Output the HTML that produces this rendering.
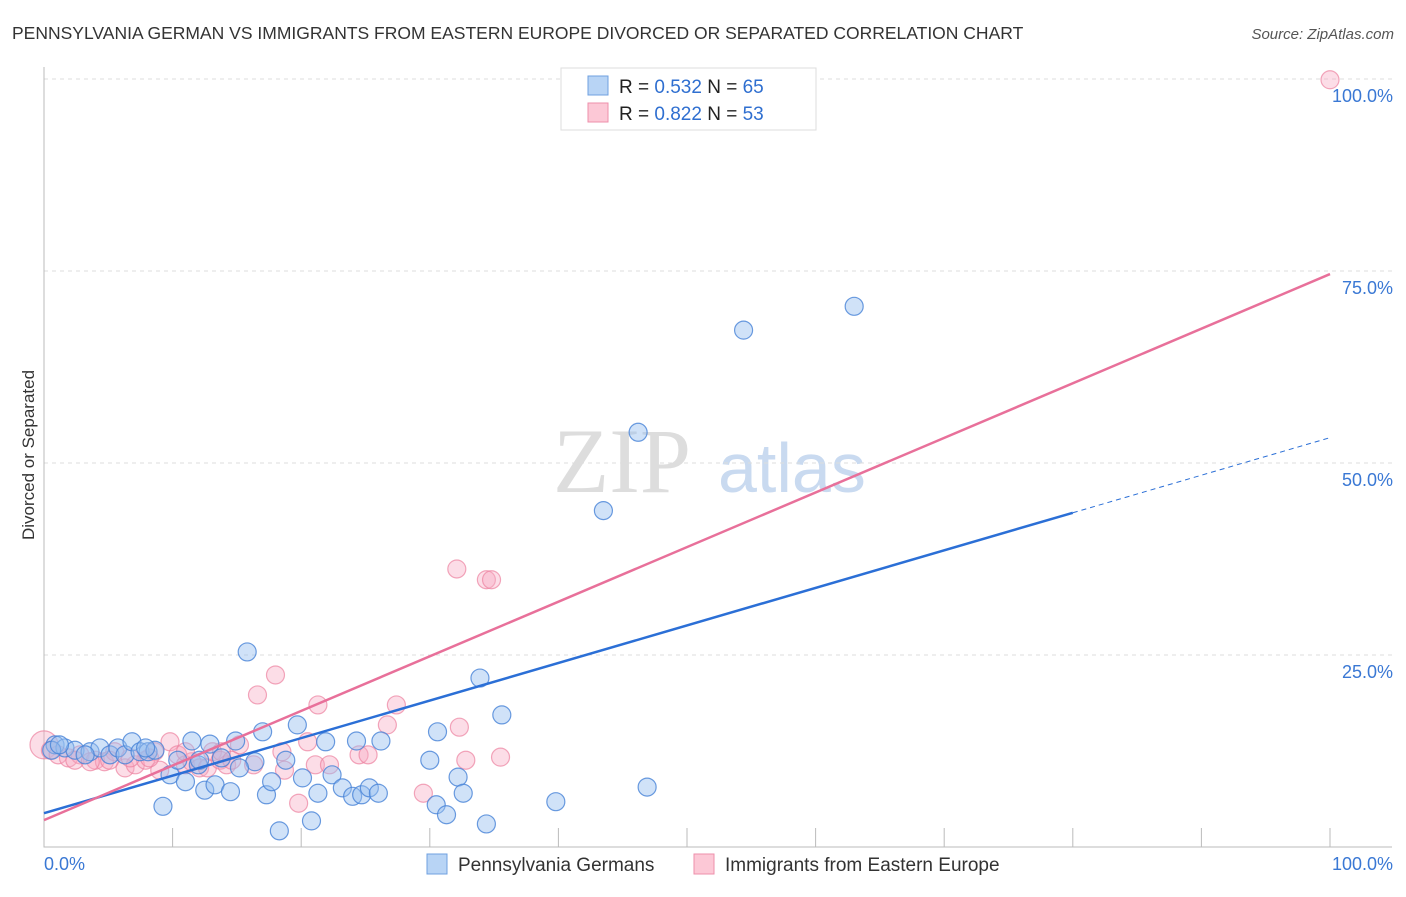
<!DOCTYPE html>
<html><head><meta charset="utf-8"><style>
body{margin:0;background:#fff;font-family:"Liberation Sans",sans-serif}
#c{position:relative;width:1406px;height:892px}
</style></head><body>
<div id="c">
<svg id="s" width="1406" height="892" xmlns="http://www.w3.org/2000/svg">
<text x="12" y="39" font-size="17.5" fill="#333">PENNSYLVANIA GERMAN VS IMMIGRANTS FROM EASTERN EUROPE DIVORCED OR SEPARATED CORRELATION CHART</text>
<text x="1394" y="39" font-size="15" fill="#555" font-style="italic" text-anchor="end">Source: ZipAtlas.com</text>
<text transform="translate(34,455) rotate(-90)" font-size="17" fill="#333" text-anchor="middle">Divorced or Separated</text>
<g><text x="553" y="492" font-size="92" font-family="Liberation Serif,serif" fill="#ddd">ZIP</text><text x="718" y="492" font-size="70" fill="#c9daf0">atlas</text></g>
<g id="grid"></g><g id="marks"></g><g id="lines"></g>
<g>
<rect x="561" y="68" width="255" height="62" fill="#fff" stroke="#ddd"/>
<rect x="588" y="76" width="20" height="19" fill="#b8d4f5" stroke="#6fa0e0"/>
<rect x="588" y="103" width="20" height="19" fill="#fcc8d6" stroke="#ee8fab"/>
<text x="619" y="93" font-size="19" fill="#222">R = <tspan fill="#2f6fd0">0.532</tspan>   N = <tspan fill="#2f6fd0">65</tspan></text>
<text x="619" y="120" font-size="19" fill="#222">R = <tspan fill="#2f6fd0">0.822</tspan>   N = <tspan fill="#2f6fd0">53</tspan></text>
</g>
<g>
<rect x="427" y="854" width="20" height="20" fill="#b8d4f5" stroke="#6fa0e0"/>
<text x="458" y="871" font-size="19" fill="#333">Pennsylvania Germans</text>
<rect x="694" y="854" width="20" height="20" fill="#fcc8d6" stroke="#ee8fab"/>
<text x="725" y="871" font-size="19" fill="#333">Immigrants from Eastern Europe</text>
</g>
<text x="44" y="870" font-size="18" fill="#3a78d4">0.0%</text>
<text x="1393" y="870" font-size="18" fill="#3a78d4" text-anchor="end">100.0%</text>
</svg></div>
<script>
const yTicks=[100,75,50,25];
const yTickLabels=["100.0%","75.0%","50.0%","25.0%"];
const xTicks=[0,10,20,30,40,50,60,70,80,90,100];
const blueX=[0.86,1.63,2.41,3.58,4.35,5.13,5.75,6.3,6.84,7.47,8.09,8.63,9.25,9.8,10.4,11,11.5,12,12.5,12.9,13.3,13.8,14.5,14.9,15.8,16.4,17,17.3,17.7,18.3,18.8,19.7,20.1,20.8,21.3,21.9,22.4,23.2,24,24.3,24.7,25.3,26,26.2,30,30.5,30.6,31.3,32.2,32.6,33.9,34.4,35.6,39.8,43.5,46.2,46.9,54.4,63,0.6,1.2,3.2,7.9,12.1,15.2];
const blueY=[13.3,12.9,12.6,12.4,12.9,12,12.9,12,13.7,12.4,12.4,12.6,5.3,9.4,11.3,8.5,13.8,10.7,7.4,13.4,8.1,11.6,7.2,13.8,25.4,11.1,15,6.8,8.5,2.1,11.3,15.9,9,3.4,7,13.7,9.4,7.7,6.6,13.8,6.8,7.7,7,13.8,11.3,5.5,15,4.2,9.1,7,22,3,17.2,5.9,43.8,54,7.8,67.3,70.4,12.6,13.3,12,12.9,11.3,10.3];
const pinkX=[0,0.5,1.1,1.9,2.8,4,4.7,5.5,6.3,7.1,7.9,8.6,9,9.8,10.4,11,11.5,12.1,12.7,13.1,13.7,14.2,15.2,16.3,16.6,18,18.5,18.7,19.8,20.5,21.1,21.3,22.2,24.5,25.2,26.7,27.4,29.5,32.1,32.3,32.8,34.4,34.8,35.5,100,2.4,3.6,6.7,11,13.8,8.2,5.1,14.6];
const pinkY=[13.3,12.6,12,11.6,12,11.3,11.1,12.4,10.3,10.7,11.3,12.4,10,13.7,12,10.7,11.1,10.3,10.3,12.4,11.3,10.7,13.3,10.7,19.8,22.4,12.4,10,5.7,13.7,10.7,18.5,10.7,12,12,15.9,18.5,7,36.2,15.6,11.3,34.8,34.8,11.7,99.9,11.3,11.1,11.6,12.4,12.4,11.6,11.3,11.3];
const blueTrend=[4.4,53.3];
const pinkTrend=[3.5,74.6];
const blueSolidEnd=80;
const NS="http://www.w3.org/2000/svg";
const X=v=>44+v*12.86, Y=v=>847-v*7.68;
function mk(t,a,p){const e=document.createElementNS(NS,t);for(const k in a)e.setAttribute(k,a[k]);p.appendChild(e);return e;}
const grid=document.getElementById('grid'),marks=document.getElementById('marks'),lines=document.getElementById('lines');
yTicks.forEach((v,i)=>{
 const l=mk('line',{x1:44,x2:1392,y1:Y(v),y2:Y(v),stroke:'#ddd','stroke-dasharray':'4,4'},grid);
 
 
 const t=mk('text',{x:1393,y:Y(v)+23,'font-size':18,fill:'#3a78d4','text-anchor':'end'},grid);
 t.textContent=yTickLabels[i];
 
 
});
const ax=mk('path',{d:'M44,67V847H1392',fill:'none',stroke:'#bbb'},grid);


xTicks.forEach(v=>{
 const t=mk('line',{x1:X(v),x2:X(v),y1:828,y2:847,stroke:'#bbb'},grid);
 
 
});
pinkX.forEach((x,i)=>{
 const c=mk('circle',{cx:X(x),cy:Y(pinkY[i]),r:x===0?14:9,fill:'rgba(248,170,195,0.4)',stroke:'rgba(236,130,160,0.7)','stroke-width':1.2},marks);
 
 
});
blueX.forEach((x,i)=>{
 const c=mk('circle',{cx:X(x),cy:Y(blueY[i]),r:9,fill:'rgba(150,190,240,0.45)',stroke:'rgba(70,130,215,0.8)','stroke-width':1.2},marks);
 
 
});
const bAt=v=>blueTrend[0]+(blueTrend[1]-blueTrend[0])*v/100;
const b1=mk('line',{x1:X(0),y1:Y(bAt(0)),x2:X(blueSolidEnd),y2:Y(bAt(blueSolidEnd)),stroke:'#2b6fd6','stroke-width':2.5},lines);


const b2=mk('line',{x1:X(blueSolidEnd),y1:Y(bAt(blueSolidEnd)),x2:X(100),y2:Y(bAt(100)),stroke:'#2b6fd6','stroke-width':1,'stroke-dasharray':'5,4'},lines);


const p1=mk('line',{x1:X(0),y1:Y(pinkTrend[0]),x2:X(100),y2:Y(pinkTrend[1]),stroke:'#e8709a','stroke-width':2.5},lines);


</script>
</body></html>
